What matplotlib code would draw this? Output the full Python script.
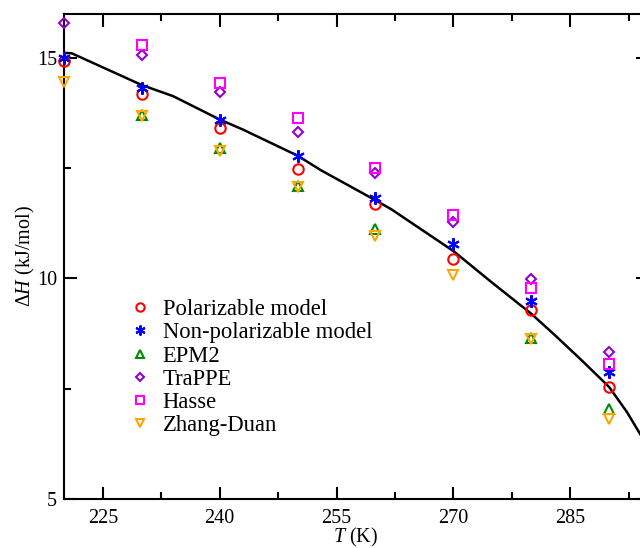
import numpy as np
import matplotlib.pyplot as plt
from matplotlib.ticker import MultipleLocator

plt.rcParams['font.family'] = 'Liberation Serif'
plt.rcParams['mathtext.fontset'] = 'custom'
plt.rcParams['mathtext.rm'] = 'Liberation Serif'
plt.rcParams['mathtext.it'] = 'Liberation Serif:italic'

# temperatures (K) for the simulation points
T = [220, 230, 240, 250, 260, 270, 280, 290]

# enthalpy of vaporisation, kJ/mol (None = no point)
polarizable     = [14.93, 14.17, 13.40, 12.48, 11.68, 10.45, 9.28, 7.54]
non_polarizable = [15.00, 14.31, 13.59, 12.78, 11.81, 10.78, 9.49, 7.88]
epm2            = [None, 13.70, 12.95, 12.09, 11.11, None, 8.64, 7.03]
trappe          = [15.78, 15.06, 14.23, 13.32, 12.38, 11.28, 9.98, 8.33]
hasse           = [None, 15.29, 14.42, 13.63, 12.49, 11.43, 9.79, 8.07]
zhang_duan      = [14.46, 13.68, 12.89, 12.06, 10.96, 10.07, 8.63, 6.82]

# reference curve
T_ref = [220, 221, 225, 230, 234, 240, 243, 250, 253, 260, 262, 270, 275,
         280, 283, 286.5, 290, 292.3, 294.2, 295]
H_ref = [15.11, 15.10, 14.78, 14.38, 14.13, 13.60, 13.37, 12.78, 12.45,
         11.77, 11.57, 10.62, 9.90, 9.20, 8.72, 8.14, 7.54, 6.97, 6.41, 6.15]

series = [
    ("Polarizable model", polarizable, 'o', '#ff0000'),
    ("Non-polarizable model", non_polarizable, (6, 2, 0), '#0000ff'),
    ("EPM2", epm2, '^', '#008b00'),
    ("TraPPE", trappe, 'D', '#9400d3'),
    ("Hasse", hasse, 's', '#ff00ff'),
    ("Zhang-Duan", zhang_duan, 'v', '#ffa500'),
]

fig = plt.figure(figsize=(6.4, 5.48), dpi=100)
ax = fig.add_axes([0.1, 0.0894, 0.9125, 0.8858])

ax.plot(T_ref, H_ref, color='black', lw=1.8, zorder=2)

sizes = {'o': 7.5, 'D': 5.5, 's': 6.5, '^': 7.5, 'v': 7.5}
for label, vals, mk, col in series:
    x = [t for t, v in zip(T, vals) if v is not None]
    y = [v for v in vals if v is not None]
    ms = sizes.get(mk, 9) if isinstance(mk, str) else 9
    ax.plot(x, y, linestyle='none', marker=mk, ms=ms, mfc='none', mec=col,
            mew=1.5, label=label, zorder=3, clip_on=False)

ax.set_xlim(220, 295)
ax.set_ylim(5, 16)
ax.xaxis.set_minor_locator(MultipleLocator(7.5))
ax.set_xticks([225, 240, 255, 270, 285])
ax.yaxis.set_major_locator(MultipleLocator(5))
ax.yaxis.set_minor_locator(MultipleLocator(2.5))

ax.tick_params(which='both', direction='in', top=True, right=True,
               width=1.5, labelsize=14.5)
ax.tick_params(axis='x', pad=7)
ax.tick_params(axis='y', pad=5)
ax.tick_params(which='major', length=9)
ax.tick_params(which='minor', length=5)
for s in ax.spines.values():
    s.set_linewidth(1.5)

ax.set_xlabel(r'$T$ (K)', fontsize=14.5, labelpad=-1.5)
ax.set_ylabel('$ΔH$ (kJ/mol)', fontsize=14.5, labelpad=0)

ax.legend(loc='upper left', bbox_to_anchor=(0.111, 0.412), frameon=False,
          fontsize=16.3, handlelength=1.0, handletextpad=0.5, labelspacing=0.1,
          borderpad=0, borderaxespad=0, markerscale=0.8)

fig.savefig('out.png', dpi=100)
